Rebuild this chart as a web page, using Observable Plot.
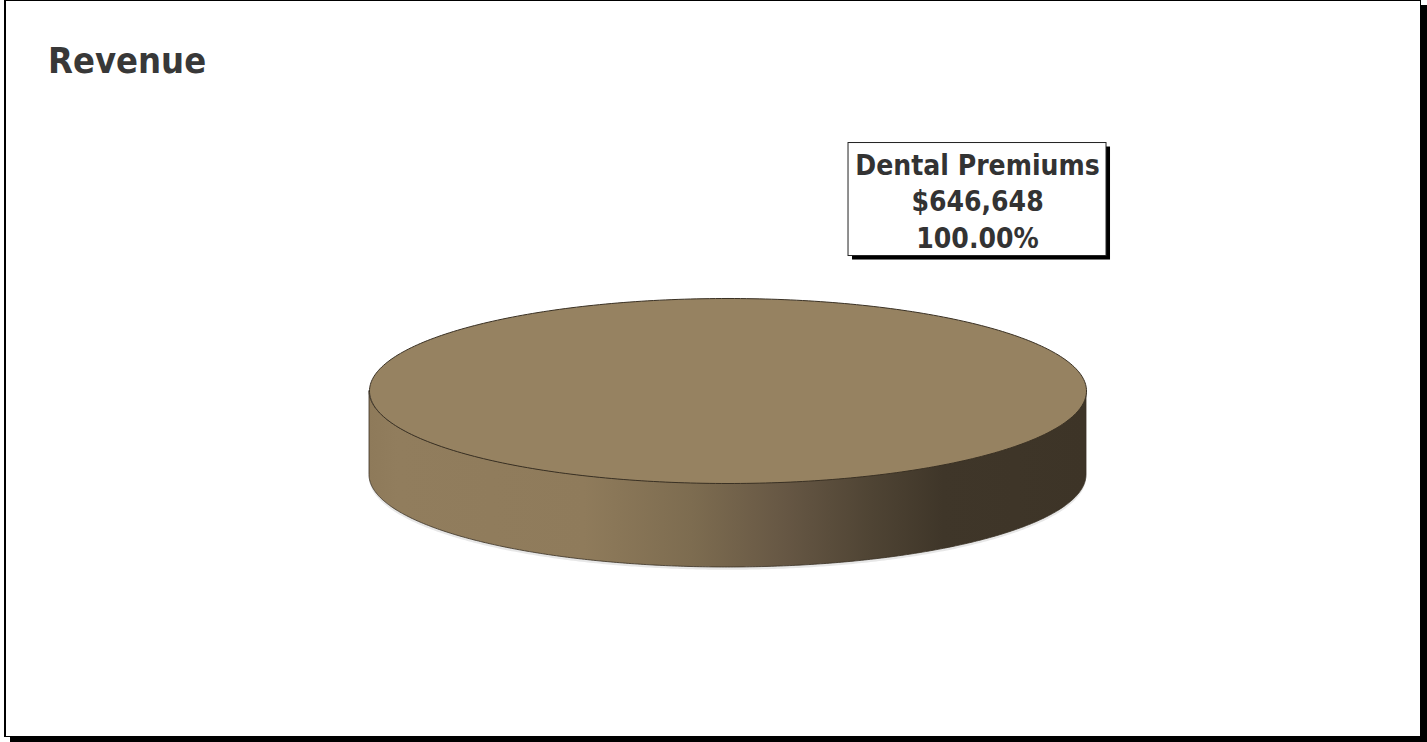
<!DOCTYPE html>
<html>
<head>
<meta charset="utf-8">
<script src="https://cdn.jsdelivr.net/npm/d3@7"></script>
<script src="https://cdn.jsdelivr.net/npm/@observablehq/plot@0.6"></script>
<style>
  html, body { margin: 0; padding: 0; background: #fff; }
  #frame {
    position: absolute; left: 4px; top: 0; width: 1414px; height: 735px;
    border: 1px solid #000; border-left-width: 2px; box-shadow: 6px 5px 0 #000; background: #fff;
  }
  #title {
    position: absolute; left: 42px; top: 42px; line-height: 36px;
    font-family: "DejaVu Sans Condensed", "DejaVu Sans", sans-serif; font-stretch: condensed;
    font-weight: bold; font-size: 36px; color: #383838; margin: 0;
  }
  #chart { position: absolute; left: -1px; top: 99px; }
</style>
</head>
<body>
<div id="frame">
  <div id="title"></div>
  <div id="chart"></div>
</div>
<script>
// ---- data ----
const titleText = "Revenue";
const categories = ["Dental Premiums"];
const values = [646648];
const sliceColors = ["#968261"];

// ---- derived ----
const total = d3.sum(values);
const arcs = d3.pie().sort(null)(values);
const DEPTH = 0.908;        // side height, in vertical-radius units
const N = 360;

const topPts = [];
const sidePts = [];
arcs.forEach((s, i) => {
  const a0 = s.startAngle, a1 = s.endAngle;
  const full = a1 - a0 >= 2 * Math.PI - 1e-9;
  if (!full) topPts.push({slice: i, x: 0, y: 0});
  for (let k = 0; k <= N; k++) {
    const phi = a0 + (a1 - a0) * k / N - Math.PI / 2;
    topPts.push({slice: i, x: Math.cos(phi), y: Math.sin(phi)});
  }
  const p0 = Math.max(a0 - Math.PI / 2, 0), p1 = Math.min(a1 - Math.PI / 2, Math.PI);
  if (p1 > p0) {
    for (let k = 0; k <= N; k++) {
      const phi = p0 + (p1 - p0) * k / N;
      sidePts.push({slice: i, x: Math.cos(phi), y1: Math.sin(phi), y2: Math.sin(phi) + DEPTH});
    }
  }
});

const labels = arcs.map((s, i) => ({
  x: 0.696, y: -2.07,
  text: `${categories[i]}\n${d3.format("$,")(values[i])}\n${d3.format(".2%")(values[i] / total)}`
}));

document.getElementById("title").textContent = titleText;

const defs = () => {
  const g = d3.create("svg:defs");
  const grad = g.append("linearGradient").attr("id", "sideGrad")
    .attr("x1", 0).attr("x2", 1).attr("y1", 0).attr("y2", 0);
  [[0, "#8e7a5a"], [0.04, "#917d5d"], [0.3, "#8f7b5b"], [0.45, "#7d6c50"],
   [0.58, "#665744"], [0.7, "#4f4434"], [0.8, "#3f3629"], [1, "#3d3427"]]
    .forEach(([o, c]) => grad.append("stop").attr("offset", o).attr("stop-color", c));
  return g.node();
};

const labelBox = (index, scales) => {
  const g = d3.create("svg:g");
  labels.forEach(d => {
    const cx = scales.x(d.x), cy = scales.y(d.y);
    const w = 258, h = 113;
    g.append("rect").attr("x", cx - w / 2 + 4).attr("y", cy - h / 2 + 4).attr("width", w).attr("height", h).attr("fill", "#000");
    g.append("rect").attr("x", cx - w / 2).attr("y", cy - h / 2).attr("width", w).attr("height", h)
      .attr("fill", "#fff").attr("stroke", "#222").attr("stroke-width", 1);
  });
  return g.node();
};

const chart = Plot.plot({
  width: 1415,
  height: 610,
  margin: 0,
  x: {domain: [-1, 1], range: [364, 1081], axis: null},
  y: {domain: [-1, 1], range: [198, 383], axis: null},
  marks: [
    defs,
    Plot.areaY(sidePts, {x: "x", y1: (d) => d.y1 + 0.03, y2: (d) => d.y2 + 0.03, z: "slice", fill: "#bbb", fillOpacity: 0.35, curve: "linear"}),
    Plot.areaY(sidePts, {x: "x", y1: "y1", y2: "y2", z: "slice", fill: "url(#sideGrad)", stroke: "#3a3124", strokeWidth: 0.8, curve: "linear"}),
    Plot.line(topPts, {x: "x", y: "y", z: "slice", fill: (d) => sliceColors[d.slice], stroke: "#3a3124", strokeWidth: 1, curve: "linear"}),
    labelBox,
    Plot.text(labels, {x: "x", y: "y", text: "text", lineHeight: 1.3, fontSize: 28, fontWeight: "bold",
      fontFamily: "'DejaVu Sans Condensed', 'DejaVu Sans', sans-serif", fill: "#333", textAnchor: "middle", lineAnchor: "middle"})
  ]
});
chart.style.fontStretch = "condensed";
document.getElementById("chart").appendChild(chart);
</script>
</body>
</html>
